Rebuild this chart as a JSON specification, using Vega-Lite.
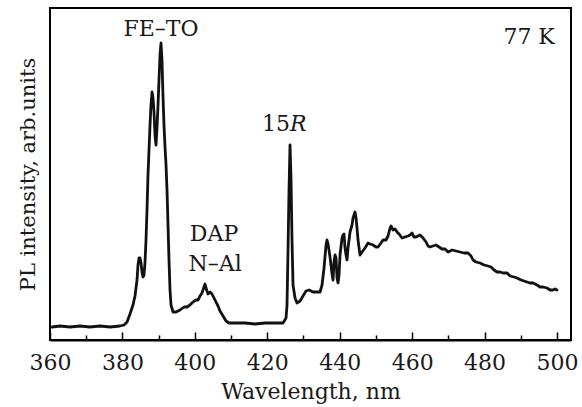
{
  "$schema": "https://vega.github.io/schema/vega-lite/v6.json",
  "width": 521,
  "height": 332,
  "autosize": {"type": "none"},
  "padding": {"left": 50, "top": 8, "right": 11, "bottom": 67},
  "background": "white",
  "config": {
    "font": "DejaVu Serif",
    "view": {"stroke": "black", "strokeWidth": 2},
    "axis": {"labelFont": "DejaVu Serif", "titleFont": "DejaVu Serif", "labelColor": "#1a1a1a", "titleColor": "#1a1a1a", "titleFontWeight": "normal"}
  },
  "datasets": {
    "spectrum": [
      {"wl": 360.55, "pl": 13}, {"wl": 362.76, "pl": 14}, {"wl": 365.52, "pl": 13}, {"wl": 368.29, "pl": 14},
      {"wl": 371.05, "pl": 13}, {"wl": 373.81, "pl": 14}, {"wl": 376.57, "pl": 13}, {"wl": 379.33, "pl": 14},
      {"wl": 380.44, "pl": 15}, {"wl": 381.27, "pl": 18}, {"wl": 382.09, "pl": 26}, {"wl": 382.92, "pl": 35},
      {"wl": 383.47, "pl": 44}, {"wl": 384.03, "pl": 60}, {"wl": 384.30, "pl": 75}, {"wl": 384.58, "pl": 82},
      {"wl": 384.86, "pl": 82}, {"wl": 385.13, "pl": 77}, {"wl": 385.41, "pl": 68}, {"wl": 385.68, "pl": 63},
      {"wl": 385.96, "pl": 65}, {"wl": 386.24, "pl": 78}, {"wl": 386.51, "pl": 100}, {"wl": 386.79, "pl": 130},
      {"wl": 387.06, "pl": 165}, {"wl": 387.34, "pl": 190}, {"wl": 387.62, "pl": 215}, {"wl": 387.89, "pl": 235},
      {"wl": 388.17, "pl": 248}, {"wl": 388.45, "pl": 242}, {"wl": 388.72, "pl": 228}, {"wl": 389.00, "pl": 205},
      {"wl": 389.27, "pl": 195}, {"wl": 389.55, "pl": 212}, {"wl": 389.83, "pl": 235}, {"wl": 390.10, "pl": 260},
      {"wl": 390.38, "pl": 285}, {"wl": 390.65, "pl": 297}, {"wl": 390.93, "pl": 280}, {"wl": 391.21, "pl": 243},
      {"wl": 391.48, "pl": 215}, {"wl": 391.76, "pl": 193}, {"wl": 392.04, "pl": 175}, {"wl": 392.31, "pl": 150},
      {"wl": 392.59, "pl": 115}, {"wl": 392.86, "pl": 80}, {"wl": 393.14, "pl": 50}, {"wl": 393.42, "pl": 35},
      {"wl": 393.97, "pl": 28}, {"wl": 394.80, "pl": 28}, {"wl": 395.90, "pl": 30}, {"wl": 397.01, "pl": 33},
      {"wl": 397.84, "pl": 33}, {"wl": 398.66, "pl": 35}, {"wl": 399.49, "pl": 38}, {"wl": 400.32, "pl": 40},
      {"wl": 400.87, "pl": 40}, {"wl": 401.43, "pl": 44}, {"wl": 401.98, "pl": 47}, {"wl": 402.53, "pl": 53},
      {"wl": 402.81, "pl": 56}, {"wl": 403.08, "pl": 52}, {"wl": 403.64, "pl": 46}, {"wl": 404.19, "pl": 48},
      {"wl": 404.74, "pl": 46}, {"wl": 405.29, "pl": 42}, {"wl": 405.84, "pl": 38}, {"wl": 406.40, "pl": 34},
      {"wl": 406.95, "pl": 29}, {"wl": 407.78, "pl": 24}, {"wl": 408.61, "pl": 19}, {"wl": 409.43, "pl": 17},
      {"wl": 411.09, "pl": 17}, {"wl": 413.85, "pl": 17}, {"wl": 416.61, "pl": 16}, {"wl": 419.38, "pl": 17},
      {"wl": 422.14, "pl": 17}, {"wl": 424.35, "pl": 17}, {"wl": 425.18, "pl": 22}, {"wl": 425.45, "pl": 35},
      {"wl": 425.73, "pl": 90}, {"wl": 426.00, "pl": 150}, {"wl": 426.28, "pl": 195}, {"wl": 426.56, "pl": 160},
      {"wl": 426.83, "pl": 100}, {"wl": 427.11, "pl": 55}, {"wl": 427.66, "pl": 42}, {"wl": 428.21, "pl": 37},
      {"wl": 429.04, "pl": 39}, {"wl": 429.87, "pl": 44}, {"wl": 430.70, "pl": 49}, {"wl": 431.53, "pl": 50},
      {"wl": 432.63, "pl": 48}, {"wl": 433.74, "pl": 48}, {"wl": 434.57, "pl": 48}, {"wl": 435.12, "pl": 55},
      {"wl": 435.67, "pl": 72}, {"wl": 436.22, "pl": 95}, {"wl": 436.50, "pl": 100}, {"wl": 436.78, "pl": 96},
      {"wl": 437.33, "pl": 83}, {"wl": 437.88, "pl": 66}, {"wl": 438.16, "pl": 60}, {"wl": 438.43, "pl": 78},
      {"wl": 438.71, "pl": 85}, {"wl": 438.98, "pl": 82}, {"wl": 439.26, "pl": 62}, {"wl": 439.54, "pl": 57},
      {"wl": 439.81, "pl": 65}, {"wl": 440.09, "pl": 85}, {"wl": 440.64, "pl": 102}, {"wl": 440.92, "pl": 105},
      {"wl": 441.19, "pl": 106}, {"wl": 441.47, "pl": 92}, {"wl": 441.75, "pl": 85}, {"wl": 442.02, "pl": 80},
      {"wl": 442.30, "pl": 92}, {"wl": 442.85, "pl": 108}, {"wl": 443.40, "pl": 115}, {"wl": 443.68, "pl": 122},
      {"wl": 444.23, "pl": 128}, {"wl": 444.51, "pl": 122}, {"wl": 444.78, "pl": 112}, {"wl": 445.06, "pl": 100},
      {"wl": 445.61, "pl": 85}, {"wl": 446.17, "pl": 88}, {"wl": 446.99, "pl": 92}, {"wl": 447.82, "pl": 97},
      {"wl": 448.37, "pl": 96}, {"wl": 449.20, "pl": 95}, {"wl": 450.03, "pl": 93}, {"wl": 450.58, "pl": 93},
      {"wl": 451.41, "pl": 97}, {"wl": 451.96, "pl": 100}, {"wl": 452.79, "pl": 100}, {"wl": 453.35, "pl": 104},
      {"wl": 453.90, "pl": 112}, {"wl": 454.17, "pl": 114}, {"wl": 454.73, "pl": 110}, {"wl": 455.28, "pl": 111},
      {"wl": 455.83, "pl": 108}, {"wl": 456.38, "pl": 106}, {"wl": 457.21, "pl": 102}, {"wl": 458.04, "pl": 103},
      {"wl": 458.87, "pl": 104}, {"wl": 459.42, "pl": 105}, {"wl": 459.97, "pl": 107}, {"wl": 460.53, "pl": 103},
      {"wl": 461.08, "pl": 103}, {"wl": 461.63, "pl": 104}, {"wl": 462.18, "pl": 105}, {"wl": 463.01, "pl": 102},
      {"wl": 463.84, "pl": 98}, {"wl": 464.39, "pl": 94}, {"wl": 464.94, "pl": 93}, {"wl": 465.77, "pl": 94},
      {"wl": 466.60, "pl": 95}, {"wl": 467.43, "pl": 93}, {"wl": 468.26, "pl": 91}, {"wl": 469.09, "pl": 91},
      {"wl": 469.92, "pl": 88}, {"wl": 471.02, "pl": 90}, {"wl": 472.12, "pl": 89}, {"wl": 473.23, "pl": 88},
      {"wl": 474.33, "pl": 87}, {"wl": 475.44, "pl": 87}, {"wl": 476.27, "pl": 84}, {"wl": 476.82, "pl": 80},
      {"wl": 477.65, "pl": 78}, {"wl": 478.75, "pl": 77}, {"wl": 479.86, "pl": 75}, {"wl": 480.96, "pl": 74},
      {"wl": 481.79, "pl": 73}, {"wl": 482.62, "pl": 70}, {"wl": 483.45, "pl": 68}, {"wl": 484.28, "pl": 68},
      {"wl": 485.10, "pl": 67}, {"wl": 486.21, "pl": 67}, {"wl": 487.04, "pl": 64}, {"wl": 488.14, "pl": 63},
      {"wl": 488.97, "pl": 62}, {"wl": 490.08, "pl": 60}, {"wl": 490.90, "pl": 59}, {"wl": 491.73, "pl": 58},
      {"wl": 492.56, "pl": 57}, {"wl": 493.39, "pl": 57}, {"wl": 494.49, "pl": 55}, {"wl": 495.32, "pl": 53},
      {"wl": 496.15, "pl": 53}, {"wl": 497.26, "pl": 52}, {"wl": 498.08, "pl": 50}, {"wl": 498.91, "pl": 50},
      {"wl": 499.47, "pl": 51}, {"wl": 500.00, "pl": 50}
    ],
    "labels": [
      {"wl": 390.65, "pl": 304, "label": "FE–TO"},
      {"wl": 492.3, "pl": 296, "label": "77 K"},
      {"wl": 405.3, "pl": 99, "label": "DAP"},
      {"wl": 405.6, "pl": 69, "label": "N–Al"}
    ],
    "fifteen": [
      {"wl": 426.3, "pl": 209, "label": "15"}
    ],
    "italic": [
      {"wl": 426.3, "pl": 209, "label": "R"}
    ]
  },
  "encoding": {
    "x": {
      "field": "wl", "type": "quantitative",
      "scale": {"domain": [360, 503.87], "nice": false, "zero": false},
      "axis": {
        "values": [360, 370, 380, 390, 400, 410, 420, 430, 440, 450, 460, 470, 480, 490, 500],
        "labelExpr": "datum.value % 20 === 0 ? datum.label : ''",
        "tickSize": {"condition": {"test": "datum.value % 20 === 0", "value": -8}, "value": -5},
        "tickColor": "black", "tickWidth": 1.5,
        "domainColor": "black", "domainWidth": 2,
        "labelFontSize": 22, "labelPadding": 20, "labelFlush": false,
        "title": "Wavelength, nm", "titleFontSize": 22, "titlePadding": 8,
        "grid": false
      }
    },
    "y": {
      "field": "pl", "type": "quantitative",
      "scale": {"domain": [0, 332], "nice": false, "zero": false},
      "axis": {
        "ticks": false, "labels": false, "domain": false, "grid": false,
        "title": "PL intensity, arb.units", "titleFontSize": 21, "titlePadding": 12
      }
    }
  },
  "layer": [
    {
      "data": {"name": "spectrum"},
      "mark": {"type": "line", "color": "#111111", "strokeWidth": 2.8, "strokeJoin": "round", "strokeCap": "round"}
    },
    {
      "data": {"name": "labels"},
      "mark": {"type": "text", "font": "DejaVu Serif", "fontSize": 22, "color": "#1a1a1a", "align": "center", "baseline": "alphabetic"},
      "encoding": {"text": {"field": "label"}}
    },
    {
      "data": {"name": "fifteen"},
      "mark": {"type": "text", "font": "DejaVu Serif", "fontSize": 22, "color": "#1a1a1a", "align": "right", "baseline": "alphabetic"},
      "encoding": {"text": {"field": "label"}}
    },
    {
      "data": {"name": "italic"},
      "mark": {"type": "text", "font": "DejaVu Serif", "fontSize": 22, "fontStyle": "italic", "color": "#1a1a1a", "align": "left", "baseline": "alphabetic"},
      "encoding": {"text": {"field": "label"}}
    }
  ]
}
